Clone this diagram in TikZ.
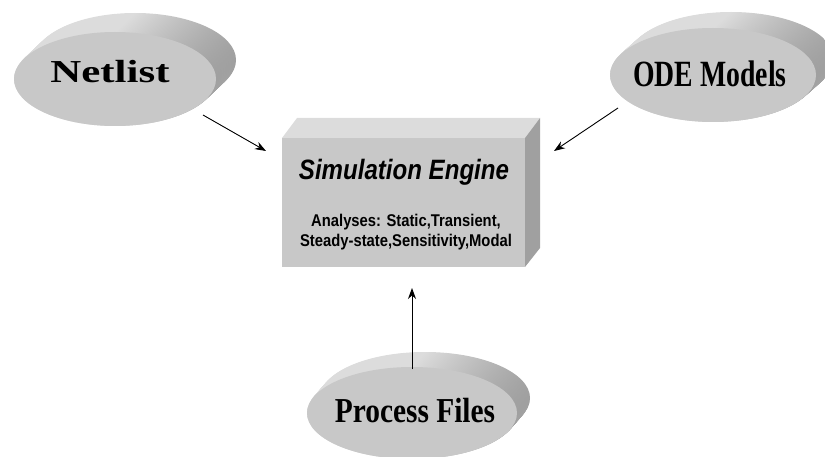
\documentclass[tikz,border=0pt]{standalone}
\usepackage{fontspec}
\setmainfont{Liberation Serif}
\setsansfont{Liberation Sans}
\usetikzlibrary{arrows.meta,calc}
\definecolor{facegray}{RGB}{200,200,200}
\definecolor{topgray}{RGB}{220,220,220}
\definecolor{sidegray}{RGB}{160,160,160}
\tikzset{
  conn/.style={draw=black, line width=0.9pt, -{Stealth[length=11pt,width=8pt]}},
  disklabel/.style={inner sep=0pt, anchor=base},
}
% extruded ellipse: #1 centre, #2 a, #3 b, #4 dx, #5 dy
\newcommand{\diskshape}[5]{%
  \foreach \k in {0,...,30}{
    \pgfmathsetmacro{\f}{1-\k/30}
    \shade[left color=topgray, right color=sidegray, middle color=topgray]
      ($#1+(\f*#4,\f*#5)$) ellipse [x radius=#2, y radius=#3];
  }
  \fill[facegray] #1 ellipse [x radius=#2, y radius=#3];
}
\begin{document}
\begin{tikzpicture}[x=1pt,y=-1pt]
\useasboundingbox (0,0) rectangle (825,457);
\clip (0,0) rectangle (825,457);
% ellipses
\diskshape{(115,79)}{101}{47}{20}{-19}
\diskshape{(713,75)}{103}{47}{18}{-16}
\diskshape{(412,413)}{105}{46}{13}{-15}
\node[disklabel, xscale=1.34, font=\bfseries\fontsize{32}{32}\selectfont] (net) at (110,83) {Netlist};
\node[disklabel, xscale=0.75, font=\bfseries\fontsize{37}{37}\selectfont] (ode) at (710,87) {ODE Models};
\node[disklabel, xscale=0.84, font=\bfseries\fontsize{35}{35}\selectfont] (proc) at (415,422) {Process Files};
% box
\fill[topgray] (282,138) -- (297,118) -- (540,118) -- (525,138) -- cycle;
\fill[sidegray] (525,138) -- (540,118) -- (540,248) -- (525,267) -- cycle;
\fill[facegray] (282,138) rectangle (525,267);
\node[inner sep=0pt, anchor=base, xscale=0.86, font=\sffamily\bfseries\itshape\fontsize{28}{28}\selectfont] (eng) at (404,180) {Simulation Engine};
\node[inner sep=0pt, anchor=base, align=center, xscale=0.87, font=\sffamily\bfseries\fontsize{17}{20.7}\selectfont] (ana) at (406,247) {Analyses: Static,Transient,\\Steady-state,Sensitivity,Modal};
\coordinate (boxl) at (266,151);
\coordinate (boxr) at (554,151);
\coordinate (boxb) at (412,288);
\coordinate (netend) at (203,115);
\coordinate (odeend) at (618,108);
\coordinate (procend) at (412,369);
\draw[conn] (netend) -- (boxl);
\draw[conn] (odeend) -- (boxr);
\draw[conn] (procend) -- (boxb);
\end{tikzpicture}
\end{document}
